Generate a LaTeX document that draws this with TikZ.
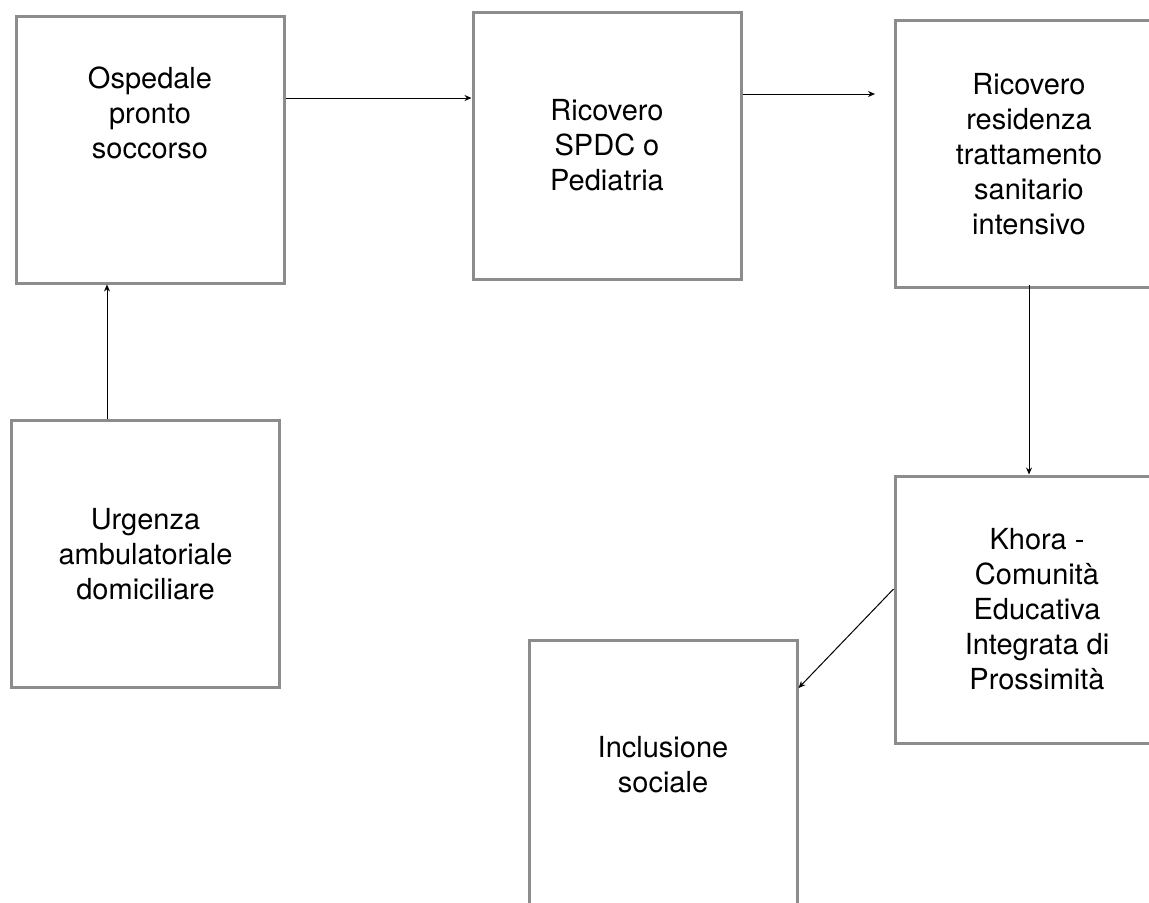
\documentclass[tikz,border=0pt]{standalone}
\usepackage{fontspec}
\setmainfont{TeX Gyre Heros}
\usetikzlibrary{arrows.meta}
\definecolor{boxgray}{RGB}{140,140,143}
\tikzset{
  stage/.style={draw=boxgray, line width=1.5pt, minimum width=134pt, minimum height=133.5pt,
    inner sep=0pt, align=center, font=\fontsize{14.5}{17.5}\selectfont},
  plain/.style={inner sep=0pt, align=center, font=\fontsize{14.5}{17.5}\selectfont},
  flow/.style={->, line width=0.5pt}
}
\begin{document}
\begin{tikzpicture}[x=0.5pt, y=-0.5pt, >={Stealth[length=3.5pt,width=3pt]}]
\useasboundingbox (0,0) rectangle (1149,902);
\clip (0,0) rectangle (1149,902);
% boxes
\node[stage] (osp) at (150,149.5) {};
\node[plain] (osptxt) at (150,113) {Ospedale\\pronto\\soccorso};
\node[stage] (ric) at (607,145.5) {Ricovero\\SPDC o\\Pediatria};
\node[stage] (res) at (1029,154) {Ricovero\\residenza\\trattamento\\sanitario\\intensivo};
\node[stage] (urg) at (145.5,554) {Urgenza\\ambulatoriale\\domiciliare};
\node[stage] (kho) at (1029,609.5) {};
\node[plain] (khotxt) at (1037,609) {Khora -\\Comunità\\Educativa\\Integrata di\\Prossimità};
\node[stage] (inc) at (663,773.5) {};
\node[plain] (inctxt) at (663,765) {Inclusione\\sociale};
\coordinate (resin) at (875,94);
% arrows
\draw[flow] (osp.east|-0,98) -- (ric.west|-0,98);
\draw[flow] (ric.east|-0,94) -- (resin);
\draw[flow] (urg.north-|107,0) -- (osp.south-|107,0);
\draw[flow] ([yshift=2pt]res.south) -- (kho.north);
\draw[flow] (kho.west|-0,589) -- (inc.east|-0,688);
\end{tikzpicture}
\end{document}
